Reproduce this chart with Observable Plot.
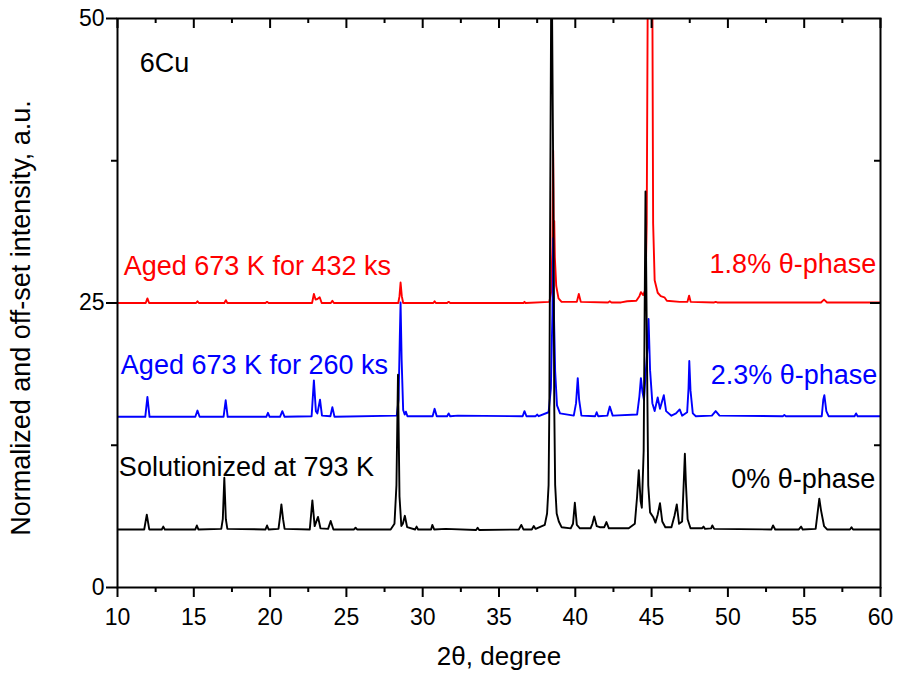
<!DOCTYPE html>
<html>
<head>
<meta charset="utf-8">
<script src="https://cdn.jsdelivr.net/npm/d3@7"></script>
<script src="https://cdn.jsdelivr.net/npm/@observablehq/plot@0.6"></script>
<style>
  html, body { margin: 0; padding: 0; background: #fff; }
  #chart { width: 900px; height: 675px; }
</style>
</head>
<body>
<div id="chart"></div>
<script>
// ---- Data (2θ in degrees, normalized + offset intensity) ----
// Solutionized at 793 K (offset 5)
const blackPts = [
  [10.0,5.1],[11.75,5.1],[11.92,6.4],[12.08,5.1],[12.9,5.1],[13.0,5.35],[13.1,5.1],
  [15.1,5.1],[15.2,5.45],[15.3,5.1],[16.8,5.15],[16.9,6.0],[17.0,9.65],[17.1,6.0],[17.2,5.15],
  [19.7,5.1],[19.8,5.45],[19.9,5.1],[20.55,5.15],[20.65,6.2],[20.74,7.3],[20.85,6.0],[20.95,5.15],
  [22.6,5.1],[22.77,7.65],[22.92,5.4],[23.14,6.2],[23.3,5.2],[23.8,5.15],[23.97,5.85],[24.15,5.1],
  [25.5,5.1],[25.6,5.25],[25.7,5.1],[27.9,5.1],[28.15,5.6],[28.28,9.0],[28.38,18.7],[28.48,8.0],
  [28.6,5.4],[28.7,5.6],[28.83,6.3],[28.98,5.3],[29.5,5.1],[29.6,5.35],[29.7,5.1],
  [30.55,5.1],[30.63,5.5],[30.75,5.1],[31.5,5.15],[33.5,5.05],[33.6,5.25],[33.7,5.05],
  [36.3,5.1],[36.46,5.5],[36.6,5.1],[37.15,5.1],[37.28,5.4],[37.4,5.15],
  [38.0,5.5],[38.15,6.5],[38.25,9.0],[38.3,16],[38.36,35],[38.42,52],[38.47,52],[38.56,35],
  [38.62,16],[38.68,9.0],[38.78,6.5],[38.92,5.8],[39.1,5.3],
  [39.7,5.2],[39.85,5.6],[39.97,7.45],[40.1,5.5],[40.3,5.2],[41.0,5.2],[41.12,5.6],[41.24,6.25],
  [41.4,5.4],[41.6,5.3],[41.9,5.3],[42.04,5.75],[42.2,5.2],[43.5,5.2],[43.9,5.6],[44.05,8.0],
  [44.16,10.3],[44.28,7.6],[44.36,7.0],[44.48,12],[44.6,34.8],[44.7,20],[44.78,9.0],[44.9,6.6],
  [45.1,6.2],[45.25,5.7],[45.4,6.4],[45.55,7.4],[45.7,5.8],[45.9,5.3],[46.3,5.3],[46.5,6.3],
  [46.65,7.3],[46.8,5.6],[47.0,5.8],[47.1,9.0],[47.18,11.75],[47.25,9.1],[47.36,6.0],[47.55,5.2],
  [48.3,5.2],[48.4,5.35],[48.5,5.15],[48.9,5.2],[48.98,5.45],[49.1,5.15],
  [52.85,5.1],[52.96,5.45],[53.1,5.1],[54.65,5.1],[54.8,5.35],[54.9,5.1],
  [55.75,5.15],[55.9,6.8],[55.99,7.8],[56.1,6.8],[56.3,5.4],[56.5,5.1],
  [58.0,5.1],[58.1,5.3],[58.2,5.1],[60.0,5.1]
];
// Aged 673 K for 260 ks (offset 15)
const bluePts = [
  [10.0,15.0],[11.82,15.0],[11.96,16.75],[12.1,15.0],[15.1,15.0],[15.24,15.55],[15.38,15.0],
  [16.95,15.0],[17.09,16.45],[17.22,15.0],[19.75,15.0],[19.86,15.35],[19.97,15.0],
  [20.65,15.0],[20.8,15.5],[20.95,15.0],[22.72,15.05],[22.87,18.2],[23.0,15.5],[23.1,15.3],
  [23.27,16.5],[23.4,15.1],[23.95,15.05],[24.08,15.85],[24.22,15.0],
  [28.3,15.1],[28.42,16.5],[28.5,22],[28.55,25.05],[28.62,20],[28.72,15.6],[28.82,15.2],
  [28.9,15.45],[29.0,15.05],[30.65,15.05],[30.78,15.7],[30.92,15.05],[31.6,15.05],[31.7,15.3],
  [31.8,15.05],[32.3,15.1],[36.55,15.05],[36.67,15.5],[36.8,15.05],[37.4,15.05],[37.5,15.2],
  [37.6,15.05],[38.25,15.4],[38.4,17.5],[38.5,24],[38.55,30.7],[38.6,24],[38.68,19],[38.8,16],
  [39.0,15.3],[39.9,15.1],[40.05,16.2],[40.16,18.4],[40.25,16.5],[40.4,15.1],[41.3,15.05],
  [41.4,15.4],[41.5,15.05],[42.1,15.1],[42.26,15.9],[42.45,15.1],[44.05,15.2],[44.2,16.8],
  [44.3,18.4],[44.4,17.2],[44.5,16.5],[44.62,19],[44.73,21],[44.8,23.6],[44.9,19.1],[45.05,16.2],
  [45.2,15.5],[45.4,16.7],[45.55,15.7],[45.8,16.9],[45.95,15.5],[46.3,15.1],[46.6,15.3],
  [46.84,15.65],[47.0,15.1],[47.33,15.4],[47.42,17.5],[47.47,19.9],[47.55,17.3],[47.7,15.3],
  [47.9,15.05],[48.95,15.1],[49.2,15.5],[49.45,15.1],[53.6,15.05],[53.7,15.15],[53.8,15.05],
  [56.15,15.05],[56.25,16.5],[56.32,16.9],[56.45,15.5],[56.6,15.05],[58.3,15.05],[58.4,15.3],
  [58.5,15.05],[60.0,15.05]
];
// Aged 673 K for 432 ks (offset 25)
const redPts = [
  [10.0,25.0],[11.85,25.0],[11.96,25.4],[12.07,25.0],[15.15,25.0],[15.24,25.15],[15.33,25.0],
  [17.0,25.0],[17.1,25.25],[17.2,25.0],[19.7,25.0],[19.8,25.1],[19.9,25.0],[22.75,25.0],
  [22.87,25.8],[22.98,25.3],[23.1,25.35],[23.25,25.5],[23.38,25.0],[23.98,25.0],[24.08,25.2],
  [24.18,25.0],[28.4,25.0],[28.48,25.6],[28.55,26.8],[28.63,25.6],[28.72,25.0],[30.7,25.0],
  [30.78,25.15],[30.86,25.0],[31.6,25.0],[31.7,25.1],[31.8,25.0],[36.6,25.0],[36.67,25.1],
  [36.74,25.0],[38.3,25.1],[38.42,26],[38.5,30],[38.55,38.4],[38.59,30],[38.62,32.2],[38.66,29],
  [38.75,26.5],[38.9,25.4],[39.1,25.1],[40.1,25.1],[40.23,25.8],[40.36,25.1],[42.15,25.05],
  [42.26,25.15],[42.37,25.05],[43.0,25.05],[43.4,25.15],[44.0,25.2],[44.2,25.6],[44.3,25.95],
  [44.45,25.7],[44.6,26.2],[44.68,32],[44.76,56],[45.04,56],[45.1,32],[45.2,27],[45.4,25.9],
  [45.6,25.6],[45.84,25.5],[46.0,25.2],[46.84,25.1],[47.35,25.1],[47.46,25.65],[47.56,25.1],
  [49.1,25.05],[49.2,25.1],[49.3,25.05],[56.1,25.05],[56.3,25.3],[56.5,25.05],[60.0,25.05]
];

const xMajorTicks = [10, 15, 20, 25, 30, 35, 40, 45, 50, 55, 60];
const xMinorTicks = [12.5, 17.5, 22.5, 27.5, 32.5, 37.5, 42.5, 47.5, 52.5, 57.5];
const yMajorTicks = [0, 25, 50];
const yMinorTicks = [12.5, 37.5];
const xTitle = "2θ, degree";
const yTitle = "Normalized and off-set intensity, a.u.";
const sampleLabel = "6Cu";
const leftLabels = ["Solutionized at 793 K", "Aged 673 K for 260 ks", "Aged 673 K for 432 ks"];
const rightLabels = ["0% θ-phase", "2.3% θ-phase", "1.8% θ-phase"];

const toRows = pts => pts.map(([x, y]) => ({x, y}));
const W = 900, H = 675, mL = 117, mR = 20, mT = 18, mB = 88;
const pw = W - mL - mR, ph = H - mT - mB;
const xMin = 10, xMax = 60, yMin = 0, yMax = 50;
// tick lengths for the mirrored (inner) ticks, converted from pixels to data units
const pxX = (xMax - xMin) / pw, pxY = (yMax - yMin) / ph;
const FONT = "'Liberation Sans', Arial, Helvetica, sans-serif";
const lw = 1.9;
const TICK_FS = 23, LABEL_FS = 27;

const txt = (label, x, y, color, anchor) =>
  Plot.text([label], {x, y, text: d => d, fill: color, fontSize: LABEL_FS, textAnchor: anchor, lineAnchor: "bottom"});

const chart = Plot.plot({
  width: W, height: H,
  marginLeft: mL, marginRight: mR, marginTop: mT, marginBottom: mB,
  style: {fontFamily: FONT, fontSize: "23px", background: "#fff", color: "#000"},
  x: {domain: [xMin, xMax], label: null},
  y: {domain: [yMin, yMax], label: null},
  marks: [
    Plot.line(toRows(redPts), {x: "x", y: "y", stroke: "#ff0000", strokeWidth: lw, clip: true}),
    Plot.line(toRows(bluePts), {x: "x", y: "y", stroke: "#0000ff", strokeWidth: lw, clip: true}),
    Plot.line(toRows(blackPts), {x: "x", y: "y", stroke: "#000000", strokeWidth: lw, clip: true}),
    Plot.frame({stroke: "#000", strokeWidth: 2}),
    // outer ticks (bottom, left)
    Plot.axisX({ticks: xMajorTicks, tickSize: 10, strokeWidth: 2, tickFormat: () => ""}),
    Plot.axisX({ticks: xMinorTicks, tickSize: 5, strokeWidth: 2, tickFormat: () => ""}),
    Plot.axisY({ticks: yMajorTicks, tickSize: 11, strokeWidth: 2, tickFormat: () => ""}),
    Plot.axisY({ticks: yMinorTicks, tickSize: 6, strokeWidth: 2, tickFormat: () => ""}),
    // tick labels
    Plot.text(xMajorTicks, {x: d => d, text: d => String(d), frameAnchor: "bottom", dy: 21, fontSize: TICK_FS, textAnchor: "middle", lineAnchor: "top"}),
    Plot.text(yMajorTicks, {y: d => d, text: d => String(d), frameAnchor: "left", dx: -13, fontSize: TICK_FS, textAnchor: "end", lineAnchor: "middle"}),
    // mirrored inner ticks on top and right
    Plot.ruleX(xMajorTicks, {x: d => d, y1: yMax, y2: yMax - 10 * pxY, strokeWidth: 2}),
    Plot.ruleX(xMinorTicks, {x: d => d, y1: yMax, y2: yMax - 5 * pxY, strokeWidth: 2}),
    Plot.ruleY([25], {y: d => d, x1: xMax, x2: xMax - 10 * pxX, strokeWidth: 2}),
    Plot.ruleY(yMinorTicks, {y: d => d, x1: xMax, x2: xMax - 6 * pxX, strokeWidth: 2}),
    // axis titles
    Plot.text([xTitle], {text: d => d, frameAnchor: "bottom", dy: 77, fontSize: 26, textAnchor: "middle", lineAnchor: "bottom"}),
    Plot.text([yTitle], {text: d => d, frameAnchor: "left", dx: -88, dy: 15, rotate: -90, fontSize: 27, textAnchor: "middle", lineAnchor: "bottom"}),
    // annotations
    txt(sampleLabel, 11.46, 45.34, "#000", "start"),
    txt(leftLabels[0], 10.09, 9.84, "#000", "start"),
    txt(leftLabels[1], 10.22, 18.8, "#0000ff", "start"),
    txt(leftLabels[2], 10.41, 27.5, "#ff0000", "start"),
    txt(rightLabels[0], 59.66, 8.7, "#000", "end"),
    txt(rightLabels[1], 59.79, 17.84, "#0000ff", "end"),
    txt(rightLabels[2], 59.72, 27.62, "#ff0000", "end")
  ]
});
document.getElementById("chart").appendChild(chart);
</script>
</body>
</html>
